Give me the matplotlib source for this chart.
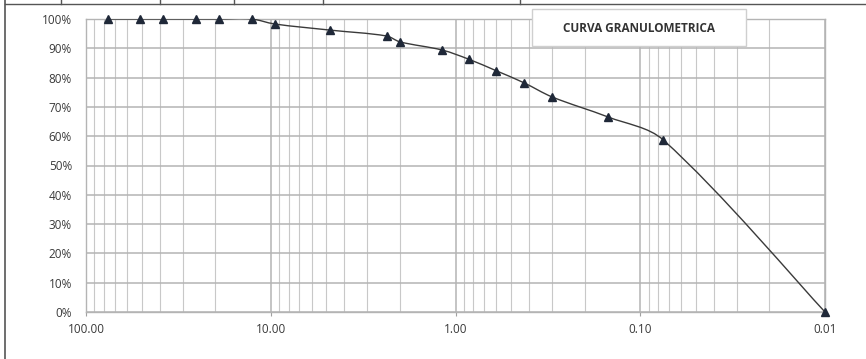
import numpy as np
import matplotlib
matplotlib.use("Agg")
import matplotlib.pyplot as plt
from matplotlib.path import Path
from matplotlib.patches import PathPatch, Rectangle
from matplotlib.lines import Line2D
from matplotlib.ticker import FixedLocator, LogLocator, FuncFormatter, NullFormatter

plt.rcParams['font.family'] = ['Open Sans', 'DejaVu Sans']

# sieve openings (mm) and percent passing
abertura = [76.2, 50.8, 38.1, 25.4, 19.05, 12.7, 9.525, 4.76, 2.36, 2.00,
            1.18, 0.85, 0.60, 0.425, 0.30, 0.15, 0.075, 0.01]
pasa = [1.00, 1.00, 1.00, 1.00, 1.00, 1.00, 0.983, 0.962, 0.942, 0.922,
        0.894, 0.863, 0.823, 0.782, 0.734, 0.666, 0.587, 0.0]
x_ticks = [100, 10, 1, 0.1, 0.01]
titulo = "CURVA GRANULOMETRICA"


def smooth_path(xs, ys, sx=185.0, sy=293.0):
    # smoothed line in log-x space, tangents weighted by segment length
    u = np.log10(np.array(xs, dtype=float))
    v = np.array(ys, dtype=float)
    pts = np.column_stack([u, v])
    scale = np.array([sx, sy])
    n = len(pts)

    def dist(a, b):
        return np.hypot(*((a - b) * scale))

    verts = [pts[0]]
    codes = [Path.MOVETO]
    for i in range(n - 1):
        p1 = pts[i]
        p2 = pts[i + 1]
        d12 = dist(p1, p2)
        if i > 0:
            p0 = pts[i - 1]
            d01 = dist(p0, p1)
            c1 = p1 + (p2 - p0) * d12 / (d01 + d12) / 3.0
        else:
            c1 = p1 + (p2 - p1) / 6.0
        if i + 2 < n:
            p3 = pts[i + 2]
            d23 = dist(p2, p3)
            c2 = p2 - (p3 - p1) * d12 / (d12 + d23) / 3.0
        else:
            c2 = p2 - (p2 - p1) / 6.0
        verts += [c1, c2, p2]
        codes += [Path.CURVE4] * 3
    verts = np.array(verts)
    verts[:, 0] = 10 ** verts[:, 0]
    return Path(verts, codes)


fig = plt.figure(figsize=(8.66, 3.59), dpi=100)
ax = fig.add_axes([86 / 866, 1 - 312 / 359, 739 / 866, 293 / 359])

ax.set_xscale('log')
ax.set_xlim(100, 0.01)
ax.set_ylim(0, 1)

ax.xaxis.set_major_locator(FixedLocator(x_ticks))
ax.xaxis.set_major_formatter(FuncFormatter(lambda v, p: f"{v:.2f}"))
ax.xaxis.set_minor_locator(LogLocator(base=10, subs=np.arange(2, 10)))
ax.xaxis.set_minor_formatter(NullFormatter())
ax.yaxis.set_major_locator(FixedLocator(np.arange(0, 1.01, 0.1)))
ax.yaxis.set_major_formatter(FuncFormatter(lambda v, p: f"{v * 100:.0f}%"))

ax.grid(True, which='major', color='#b4b4b4', lw=1.1)
ax.grid(True, which='minor', axis='x', color='#c8c8c8', lw=0.8)
ax.tick_params(axis='x', which='major', length=3, color='#a0a0a0', labelsize=8.5,
               labelcolor='#3a3a3a', pad=5)
ax.tick_params(axis='x', which='minor', length=0)
ax.tick_params(axis='y', length=0, labelsize=8.5, labelcolor='#3a3a3a', pad=10)
for s in ax.spines.values():
    s.set_color('#b4b4b4')
    s.set_linewidth(1.0)

ax.add_patch(PathPatch(smooth_path(abertura, pasa), fill=False, edgecolor='#3a3a3a',
                       lw=1.0, transform=ax.transData, zorder=3))
ax.plot(abertura, pasa, linestyle='none', marker='^', markersize=6,
        color='#1f2838', zorder=4, clip_on=False)

# title box
fig.patches.append(Rectangle((532 / 866, 1 - 46 / 359), 214 / 866, 37 / 359,
                             transform=fig.transFigure, facecolor='white',
                             edgecolor='#cfcfcf', lw=1.0, zorder=5))
fig.text(639 / 866, 1 - 28 / 359, titulo, ha='center', va='center',
         fontsize=8.5, fontweight='bold', color='#333333', zorder=6)

# fragment of the sheet table above and left border
fig.lines.append(Line2D([5 / 866, 1], [1 - 4 / 359] * 2, transform=fig.transFigure,
                        color='#555555', lw=1.0))
fig.lines.append(Line2D([5 / 866] * 2, [0, 1], transform=fig.transFigure,
                        color='#555555', lw=1.2))
for xp in [61, 160, 234, 323, 520]:
    fig.lines.append(Line2D([xp / 866] * 2, [1 - 4 / 359, 1], transform=fig.transFigure,
                            color='#555555', lw=1.0))

fig.savefig("out.png", dpi=100, facecolor='white')
